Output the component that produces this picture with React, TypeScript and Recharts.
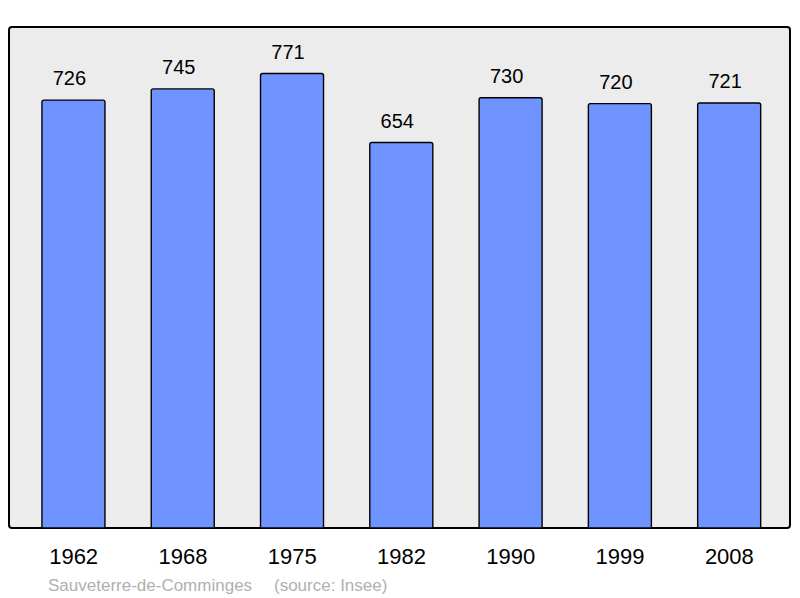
import React from 'react';
import { BarChart, Bar, XAxis, YAxis, LabelList } from 'recharts';

const years = ['1962', '1968', '1975', '1982', '1990', '1999', '2008'];
const population = [726, 745, 771, 654, 730, 720, 721];
const footerName = 'Sauveterre-de-Comminges';
const footerSource = '(source: Insee)';

const data = years.map((y, i) => ({ year: y, value: population[i] }));

const FONT = '"Liberation Sans", Arial, Helvetica, sans-serif';

export default function App() {
  return (
    <div style={{ position: 'absolute', left: 0, top: 0, width: 800, height: 598, background: '#ffffff' }}>
      <div
        style={{
          position: 'absolute',
          left: 8,
          top: 26,
          width: 783,
          height: 503,
          boxSizing: 'border-box',
          border: '2px solid #000',
          borderRadius: 4,
          background: '#ececec',
        }}
      />
      <div style={{ position: 'absolute', left: 0, top: 0 }}>
        <BarChart
          width={800}
          height={598}
          data={data}
          margin={{ top: 27, right: 16, bottom: 40, left: 19 }}
          barCategoryGap="21%"
        >
          <YAxis hide domain={[0, 850]} />
          <XAxis
            dataKey="year"
            axisLine={false}
            tickLine={false}
            tickSize={0}
            tickMargin={20}
            height={30}
            tick={{ fontSize: 22, fill: '#000', fontFamily: FONT }}
            interval={0}
          />
          <Bar
            dataKey="value"
            fill="#7094ff"
            stroke="#000"
            strokeWidth={1.4}
            radius={[2, 2, 0, 0]}
            isAnimationActive={false}
          >
            <LabelList
              dataKey="value"
              position="top"
              offset={15}
              dx={-4}
              style={{ fontSize: 20, fill: '#000', fontFamily: FONT }}
            />
          </Bar>
        </BarChart>
      </div>
      <svg width={800} height={598} style={{ position: 'absolute', left: 0, top: 0, pointerEvents: 'none' }}>
        <text x={48} y={590.5} fontSize={17} fill="#b0b0b0" fontFamily={FONT}>
          {footerName}
        </text>
        <text x={274} y={590.5} fontSize={17} fill="#b0b0b0" fontFamily={FONT}>
          {footerSource}
        </text>
      </svg>
    </div>
  );
}
